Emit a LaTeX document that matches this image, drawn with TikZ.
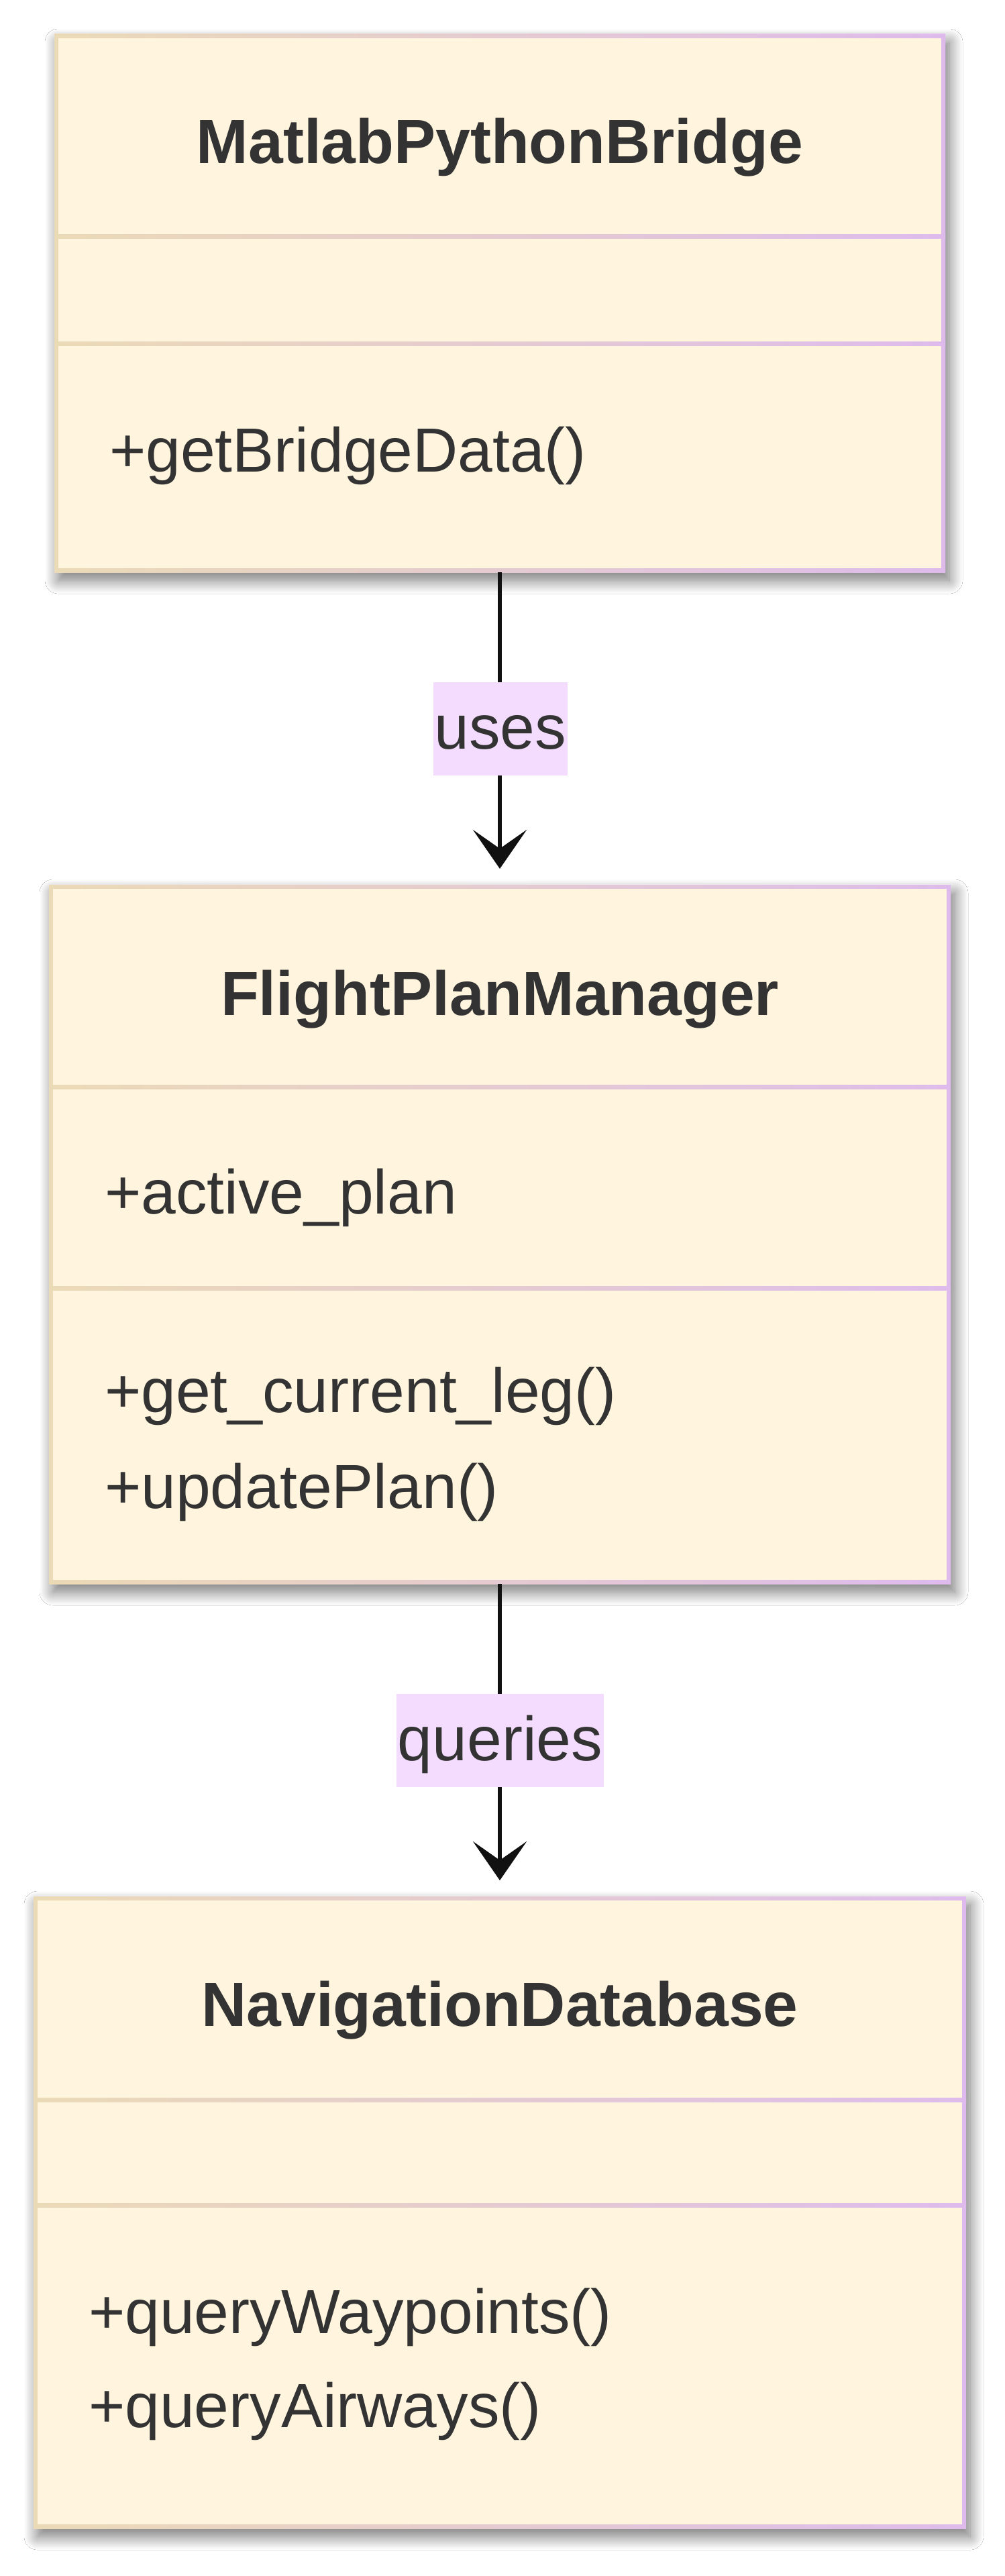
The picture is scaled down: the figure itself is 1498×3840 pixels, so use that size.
\documentclass[tikz,border=0pt]{standalone}
\usepackage{fontspec}
\setmainfont{Liberation Sans}
\usetikzlibrary{arrows.meta,shadows.blur}
\definecolor{boxfill}{HTML}{FFF4DD}
\definecolor{bordL}{HTML}{EBDAB6}
\definecolor{bordR}{HTML}{DEBBEC}
\definecolor{lblfill}{HTML}{F3DCFD}
\definecolor{txtcol}{HTML}{333333}
\definecolor{conncol}{HTML}{111111}
\newcommand\bigfont{\fontsize{93pt}{111pt}\selectfont}
\tikzset{
  classframe/.style={rectangle, inner sep=0pt, outer sep=0pt, left color=bordL, right color=bordR,
    blur shadow={shadow xshift=6pt, shadow yshift=-12pt, shadow blur radius=20pt,
      shadow blur steps=16, shadow opacity=55}},
  classinner/.style={fill=boxfill},
  dividerline/.style={left color=bordL, right color=bordR},
  titletext/.style={anchor=base, inner sep=0pt, font=\bfseries\bigfont, text=txtcol},
  membertext/.style={anchor=base west, inner sep=0pt, font=\bigfont, text=txtcol},
  edgelabel/.style={anchor=base, fill=lblfill, inner xsep=1.5pt, inner ysep=0pt,
    text height=99pt, text depth=40pt, font=\bigfont, text=txtcol},
  conn/.style={draw=conncol, line width=6pt, -{Stealth[length=58pt,width=80pt,inset=28pt]}}
}
\begin{document}
\begin{tikzpicture}[x=1pt,y=-1pt]
\fill[white] (0,0) rectangle (1498,3840);
\useasboundingbox (0,0) rectangle (1498,3840);

% Box 1
\node[classframe, minimum width=1328pt, minimum height=802pt] (b1) at (745,452) {};
\fill[classinner] ([shift={(6,-6)}]b1.south west) rectangle ([shift={(-6,6)}]b1.north east);
\shade[dividerline] (81,349) rectangle (1409,355);
\shade[dividerline] (81,509) rectangle (1409,515);
\node[titletext] (t1) at (745,244) {MatlabPythonBridge};
\node[membertext] (m1) at (163,703) {+getBridgeData()};

% Box 2
\node[classframe, minimum width=1344pt, minimum height=1042pt] (b2) at (745,1840) {};
\fill[classinner] ([shift={(6,-6)}]b2.south west) rectangle ([shift={(-6,6)}]b2.north east);
\shade[dividerline] (73,1617) rectangle (1417,1623);
\shade[dividerline] (73,1917) rectangle (1417,1923);
\node[titletext] (t2) at (745,1513) {FlightPlanManager};
\node[membertext] (a2) at (156,1809) {+active\_plan};
\node[membertext] (m2a) at (156,2105) {+get\_current\_leg()};
\node[membertext] (m2b) at (156,2248) {+updatePlan()};

% Box 3
\node[classframe, minimum width=1390pt, minimum height=942pt] (b3) at (745,3298) {};
\fill[classinner] ([shift={(6,-6)}]b3.south west) rectangle ([shift={(-6,6)}]b3.north east);
\shade[dividerline] (50,3127) rectangle (1440,3133);
\shade[dividerline] (50,3284) rectangle (1440,3290);
\node[titletext] (t3) at (745,3020) {NavigationDatabase};
\node[membertext] (m3a) at (132,3478) {+queryWaypoints()};
\node[membertext] (m3b) at (132,3618) {+queryAirways()};

% Connectors
\draw[conn] (b1.south) -- ([yshift=24pt]b2.north);
\node[edgelabel] (l1) at (746,1116) {uses};
\draw[conn] (b2.south) -- ([yshift=24pt]b3.north);
\node[edgelabel] (l2) at (745.5,2624) {queries};
\end{tikzpicture}
\end{document}
